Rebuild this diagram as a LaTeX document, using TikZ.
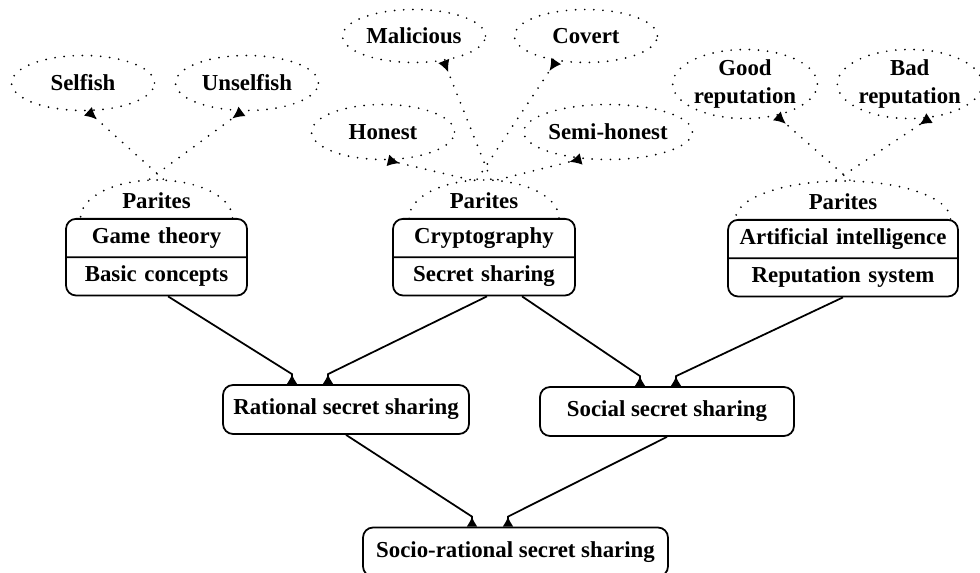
\documentclass[tikz,border=0pt]{standalone}
\usepackage{fontspec}
\setmainfont{Liberation Serif}
\usetikzlibrary{positioning}
\usetikzlibrary{arrows.meta}
\usetikzlibrary{shapes.geometric, shapes.multipart}

\begin{document}
\begin{tikzpicture}[x=0.02cm, y=-0.02cm,
	font=\fontsize{13}{15}\selectfont\bfseries,
	dots/.style={draw, line width=1.1pt, line cap=round, dash pattern=on 0pt off 5.2pt},
	role/.style={ellipse, dots, minimum width=2.86cm, minimum height=1.1cm, inner sep=0pt, align=center},
	parites/.style={ellipse, dots, minimum height=1.52cm, inner sep=0pt, label={[yshift=0.34cm]center:Parites}},
	record/.style={rectangle split, rectangle split parts=2, draw, line width=1pt, rounded corners=0.2cm, fill=white, align=center, inner xsep=0.1cm, inner ysep=2.9pt},
	box/.style={rectangle, draw, line width=1pt, rounded corners=0.2cm, fill=white, minimum height=0.98cm},
	dep/.style={line width=1pt, -{Latex[reversed, length=0.2cm, width=0.22cm]}},
	pedge/.style={dots, -{Latex[reversed, length=0.24cm, width=0.24cm]}}]

	\useasboundingbox (0,0) rectangle (980,573);

	% parties around each field
	\node (par1) [parites, minimum width=3.04cm] at (156.5,218) {};
	\node (par2) [parites, minimum width=3.0cm] at (484,218) {};
	\node (par3) [parites, minimum width=4.3cm] at (843,219) {};

	% fields
	\node (gt) [record, text width=3.42cm, below = 0cm of par1.center] {Game theory\strut \nodepart{two} Basic concepts\strut};
	\node (cr) [record, text width=3.44cm, below = 0cm of par2.center] {Cryptography\strut \nodepart{two} Secret sharing\strut};
	\node (ai) [record, text width=4.4cm, below = 0cm of par3.center] {Artificial intelligence\strut \nodepart{two} Reputation system\strut};

	% kinds of parties
	\node (self) [role] at (83,83) {Selfish};
	\node (unself) [role, right = 0.38cm of self] {Unselfish};
	\node (mal) [role, minimum height=1.06cm] at (414,36) {Malicious};
	\node (cov) [role, minimum height=1.06cm, right = 0.54cm of mal] {Covert};
	\node (hon) [role] at (383,132) {Honest};
	\node (semi) [role] at (608,132) {Semi-honest};
	\node (good) [role] at (745,84) {Good\\[1pt]reputation};
	\node (bad) [role, right = 0.36cm of good] {Bad\\[1pt]reputation};

	\draw [pedge] (par1.80) -- (self.-80);
	\draw [pedge] (par1.100) -- (unself.-100);
	\draw [pedge] (par2.110) -- (hon.-80);
	\draw [pedge] (par2.80) -- (mal.-40);
	\draw [pedge] (par2.100) -- (cov.-140);
	\draw [pedge] (par2.70) -- (semi.-135);
	\draw [pedge] (par3.80) -- (good.-45);
	\draw [pedge] (par3.100) -- (bad.-60);

	% secret sharing schemes
	\node (rat) [box, minimum width=4.92cm] at (346,409.5) {Rational secret sharing};
	\node (soc) [box, minimum width=5.08cm] at (667,411.5) {Social secret sharing};
	\node (socio) [box, minimum width=6.1cm] at (515.5,552) {Socio-rational secret sharing};

	\draw [dep] ([xshift=0.23cm]gt.south) -- ([xshift=-1.08cm,yshift=0.2cm]rat.north) -- ([xshift=-1.08cm]rat.north);
	\draw [dep] ([xshift=0.06cm]cr.south) -- ([xshift=-0.36cm,yshift=0.2cm]rat.north) -- ([xshift=-0.36cm]rat.north);
	\draw [dep] ([xshift=0.76cm]cr.south) -- ([xshift=-0.54cm,yshift=0.2cm]soc.north) -- ([xshift=-0.54cm]soc.north);
	\draw [dep] (ai.south) -- ([xshift=0.18cm,yshift=0.2cm]soc.north) -- ([xshift=0.18cm]soc.north);
	\draw [dep] (rat.south) -- ([xshift=-0.87cm,yshift=0.2cm]socio.north) -- ([xshift=-0.87cm]socio.north);
	\draw [dep] (soc.south) -- ([xshift=-0.15cm,yshift=0.2cm]socio.north) -- ([xshift=-0.15cm]socio.north);
\end{tikzpicture}
\end{document}
